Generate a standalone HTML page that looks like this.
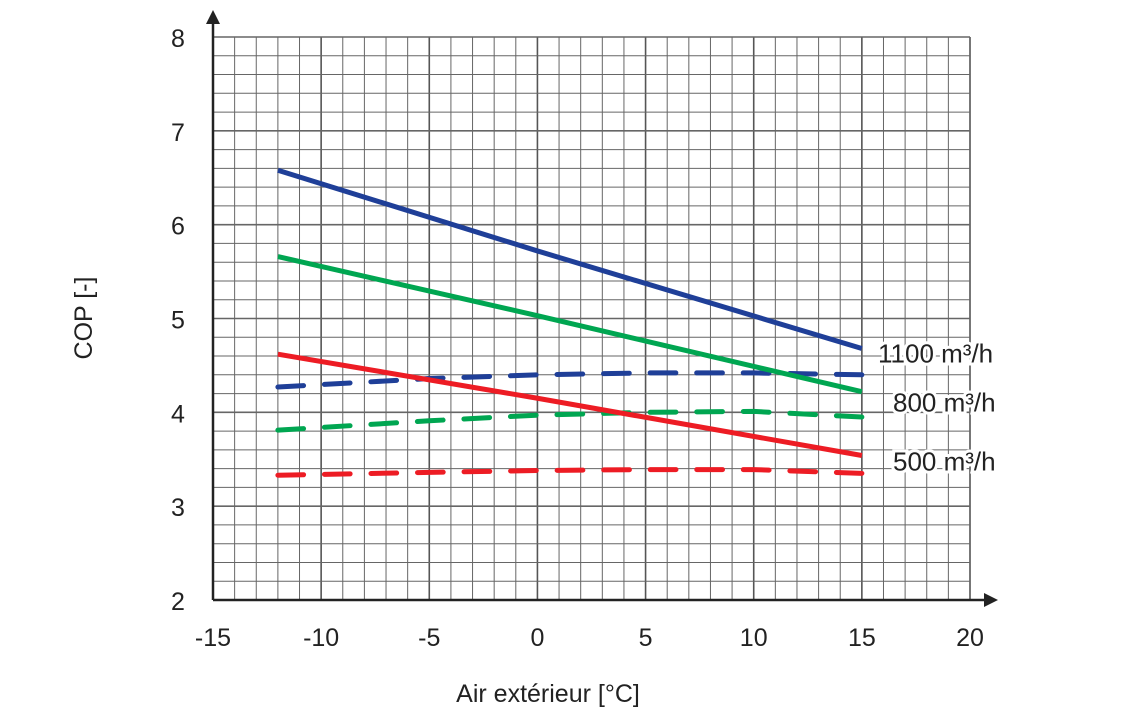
<!DOCTYPE html>
<html><head><meta charset="utf-8"><style>
body{margin:0;background:#fff}
svg{display:block;font-family:"Liberation Sans",sans-serif}
</style></head><body>
<svg id="chart" width="1144" height="724" viewBox="0 0 1144 724" xmlns="http://www.w3.org/2000/svg">
<g id="grid"></g>
<g id="axes"></g>
<g id="series"></g>
<g id="labels"></g>
</svg>
<script>
const xTicks=[-15,-10,-5,0,5,10,15,20];
const yTicks=[2,3,4,5,6,7,8];
const temps=[-12,-5,0,5,10,15];
const solid1100=[6.58,null,5.72,null,null,4.68];
const solid800=[5.66,null,5.03,null,null,4.22];
const solid500=[4.62,null,4.15,null,null,3.54];
const dash1100=[4.27,4.36,4.40,4.42,4.42,4.40];
const dash800=[3.81,3.91,3.97,4.00,4.01,3.95];
const dash500=[3.33,3.36,3.38,3.39,3.39,3.35];
const seriesLabels=["1100 m³/h","800 m³/h","500 m³/h"];
const labelVals=[4.53,4.01,3.38];

const NS="http://www.w3.org/2000/svg";
const X=v=>213+(v+15)*(757/35);
const Y=v=>600-(v-2)*(563/6);
function mk(tag,attrs,parent){const e=document.createElementNS(NS,tag);for(const k in attrs)e.setAttribute(k,attrs[k]);parent.appendChild(e);return e;}
const grid=document.getElementById('grid'),axes=document.getElementById('axes'),ser=document.getElementById('series'),lab=document.getElementById('labels');
for(let v=-15;v<=20;v++){const l=mk('line',{x1:X(v),x2:X(v),y1:Y(8),y2:Y(2),stroke:v%5===0?'#555':'#666','stroke-width':v%5===0?1.6:1},grid);

}
for(let i=0;i<=30;i++){const v=2+i*0.2;const l=mk('line',{x1:X(-15),x2:X(20),y1:Y(v),y2:Y(v),stroke:'#666','stroke-width':i%5===0?1.6:1},grid);

}
let a=mk('line',{x1:X(-15),x2:X(-15),y1:Y(2),y2:18,stroke:'#222','stroke-width':2.5},axes);

a=mk('polygon',{points:`${X(-15)-7},24 ${X(-15)+7},24 ${X(-15)},10`,fill:'#222'},axes);

a=mk('line',{x1:X(-15),x2:990,y1:Y(2),y2:Y(2),stroke:'#222','stroke-width':2.5},axes);

a=mk('polygon',{points:`984,593 984,607 998,600`,fill:'#222'},axes);

xTicks.forEach(v=>{const t=mk('text',{x:X(v),y:646,'text-anchor':'middle','font-size':25,fill:'#222'},lab);t.textContent=v;
});
yTicks.forEach(v=>{const t=mk('text',{x:178,y:Y(v)+10,'text-anchor':'middle','font-size':25,fill:'#222'},lab);t.textContent=v;
});
let t=mk('text',{x:548,y:702,'text-anchor':'middle','font-size':25,fill:'#222'},lab);t.textContent='Air extérieur  [°C]';

t=mk('text',{x:92,y:318,'text-anchor':'middle','font-size':25,fill:'#222',transform:'rotate(-90 92 318)'},lab);t.textContent='COP [-]';

function draw(vals,color,dashed,name){const pts=[];temps.forEach((x,i)=>{if(vals[i]!=null)pts.push(X(x)+','+Y(vals[i]));});
const p=mk('polyline',{points:pts.join(' '),fill:'none',stroke:color,'stroke-width':5,'stroke-linecap':dashed?'round':'butt'},ser);
if(dashed){p.setAttribute('pathLength','100');p.setAttribute('stroke-dasharray','4.4 3.57');}
}
draw(dash1100,'#1f3f98',true,'line-1100-dashed');
draw(dash800,'#00a651',true,'line-800-dashed');
draw(dash500,'#ed1c24',true,'line-500-dashed');
draw(solid1100,'#1f3f98',false,'line-1100-solid');
draw(solid800,'#00a651',false,'line-800-solid');
draw(solid500,'#ed1c24',false,'line-500-solid');
seriesLabels.forEach((s,i)=>{
const tt=mk('text',{x:[878,893,893][i],y:Y(labelVals[i]),'font-size':26,fill:'#222',stroke:'#fff','stroke-width':6,'paint-order':'stroke'},lab);tt.textContent=s;
});
</script>
</body></html>
